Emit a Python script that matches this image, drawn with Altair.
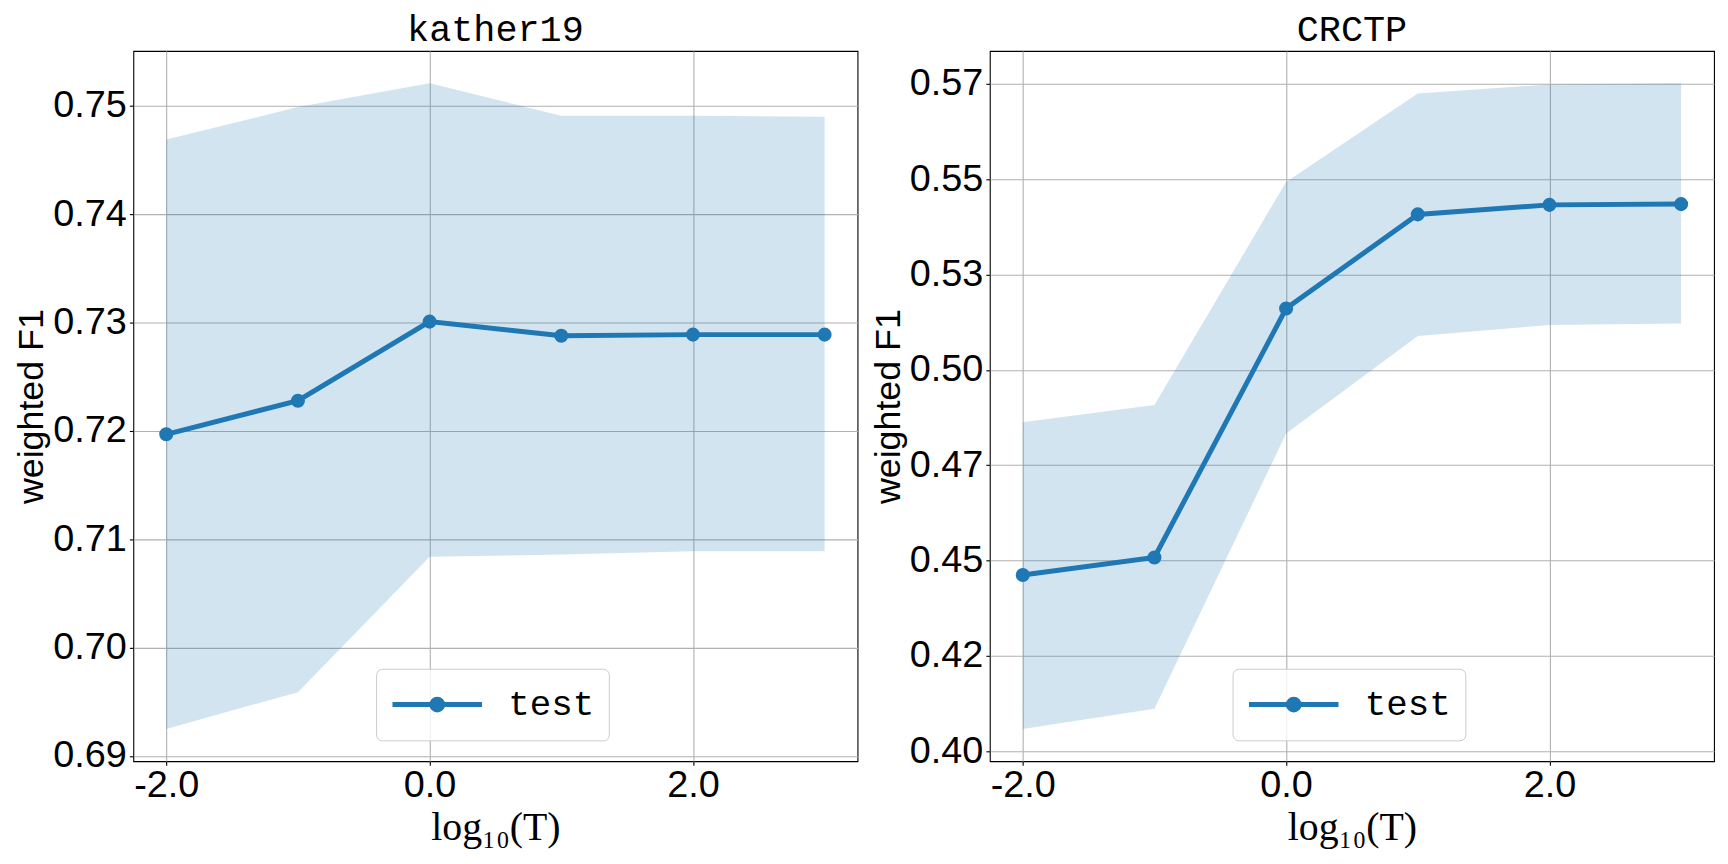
import altair as alt
import pandas as pd

log_t = [-2, -1, 0, 1, 2, 3]

kather_mean = [0.7197, 0.7228, 0.7301, 0.7288, 0.7289, 0.7289]
kather_upper = [0.7469, 0.7499, 0.7521, 0.7491, 0.7491, 0.7490]
kather_lower = [0.6925, 0.6959, 0.7084, 0.7086, 0.7089, 0.7089]
kather_ticks = [0.69, 0.70, 0.71, 0.72, 0.73, 0.74, 0.75]

crctp_mean = [0.4462, 0.4508, 0.5161, 0.5408, 0.5433, 0.5435]
crctp_upper = [0.4863, 0.4908, 0.5493, 0.5725, 0.5749, 0.5752]
crctp_lower = [0.4058, 0.4111, 0.4833, 0.5089, 0.5118, 0.5122]
crctp_ticks = [0.4, 0.425, 0.45, 0.475, 0.5, 0.525, 0.55, 0.575]

x_ticks = [-2, 0, 2]
series_name = "test"
BLUE = "#1f77b4"

LEGEND_SYMBOL = ("M-1,0L1,0M0.12,0A0.12,0.12,0,1,1,-0.12,0"
                 "A0.12,0.12,0,1,1,0.12,0Z")


def panel(title, mean, upper, lower, yticks):
    df = pd.DataFrame({"x": log_t, "mean": mean, "upper": upper,
                       "lower": lower, "series": series_name})
    lo, hi = min(lower), max(upper)
    pad = 0.05 * (hi - lo)
    yscale = alt.Scale(domain=[lo - pad, hi + pad], nice=False, zero=False)
    xscale = alt.Scale(domain=[-2.25, 3.25], nice=False, zero=False)
    xaxis = alt.Axis(values=x_ticks, title="log₁₀(T)",
                     labelExpr="(datum.value < 0 ? '-' : '') + format(abs(datum.value), '.1f')",
                     labelPadding=1, titleFont="Liberation Serif",
                     titleFontSize=40, titlePadding=4)
    yaxis = alt.Axis(values=yticks, format=".2f", title="weighted F1",
                     labelPadding=3, titlePadding=2)
    color = alt.Color("series:N",
                      scale=alt.Scale(domain=[series_name], range=[BLUE]),
                      legend=alt.Legend(
                          title=None, orient="none", legendX=244, legendY=621,
                          symbolType=LEGEND_SYMBOL, symbolSize=8100,
                          symbolStrokeWidth=5, symbolFillColor=BLUE,
                          symbolStrokeColor=BLUE, symbolOpacity=1,
                          labelFont="Liberation Mono", labelFontSize=36,
                          labelColor="black", labelOffset=24, padding=14,
                          clipHeight=44, strokeColor="#cccccc",
                          fillColor="rgba(255,255,255,0.8)", cornerRadius=6))
    base = alt.Chart(df)
    band = base.mark_area(color=BLUE, opacity=0.2).encode(
        x=alt.X("x:Q", scale=xscale, axis=xaxis),
        y=alt.Y("lower:Q", scale=yscale, axis=yaxis),
        y2="upper:Q")
    line = base.mark_line(strokeWidth=5).encode(
        x="x:Q", y="mean:Q", color=color)
    pts = base.mark_circle(size=200, opacity=1).encode(
        x="x:Q", y="mean:Q", color=color)
    return alt.layer(band, line, pts).properties(
        width=728, height=714,
        title=alt.Title(title, font="Liberation Mono", fontSize=37,
                        fontWeight="normal", color="black", offset=2))


left = panel("kather19", kather_mean, kather_upper, kather_lower, kather_ticks)
right = panel("CRCTP", crctp_mean, crctp_upper, crctp_lower, crctp_ticks)

chart = alt.hconcat(left, right, spacing=11).resolve_scale(
    color="independent").properties(
    background="white", padding={"left": 5, "top": 0, "right": 5, "bottom": 0}
).configure_view(stroke="black", strokeWidth=1.1).configure_axis(
    grid=True, gridColor="#b0b0b0", gridWidth=1.1, domain=False,
    tickColor="black", tickSize=4, tickWidth=1.1,
    labelFont="Liberation Sans", labelFontSize=38, labelColor="black",
    titleFont="Liberation Sans", titleFontSize=36, titleFontWeight="normal",
    titleColor="black")

chart.save("out.html", embed_options={"renderer": "svg", "actions": False})
